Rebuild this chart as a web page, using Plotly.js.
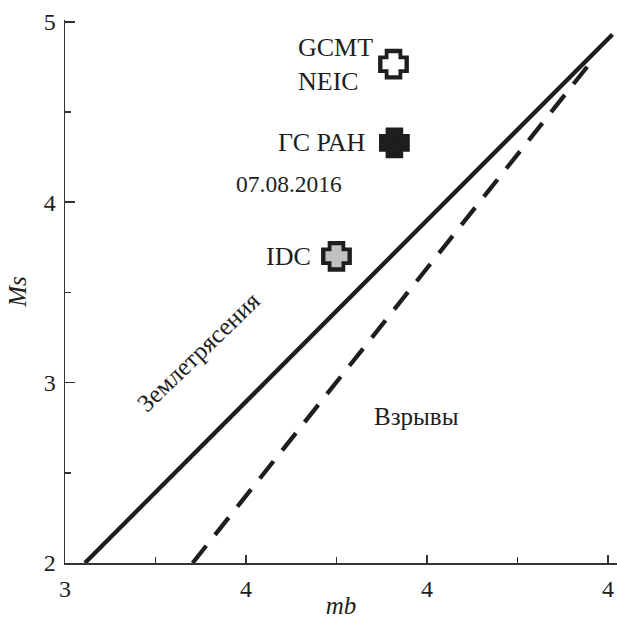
<!DOCTYPE html>
<html>
<head>
<meta charset="utf-8">
<script src="https://cdn.plot.ly/plotly-3.0.1.min.js"></script>
<style>html,body{margin:0;padding:0;background:#fff;}#chart{width:617px;height:619px;}</style>
</head>
<body>
<div id="chart"></div>
<script>
// Discrimination lines (mb, Ms)
const quakeMb = [3.644, 4.81];
const quakeMs = [2.0, 4.93];
const blastMb = [3.882, 4.771];
const blastMs = [2.0, 4.804];

// Agency estimates
const agencyLabels = ['GCMT<br>NEIC', 'ГС РАН', 'IDC'];
const agencyMb = [4.326, 4.328, 4.200];
const agencyMs = [4.765, 4.329, 3.700];
const agencyFill = ['#ffffff', '#1e1e1e', '#c0c0c0'];

// Axis ticks
const xTickVals = [3.6, 4.0, 4.4, 4.8];
const xTickText = ['3', '4', '4', '4'];
const xMinorVals = [3.8, 4.2, 4.6];
const yTickVals = [2, 3, 4, 5];
const yTickText = ['2', '3', '4', '5'];
const yMinorVals = [2.5, 3.5, 4.5];

const ink = '#1e1e1e';
const axisInk = '#333333';
const serif = "'Liberation Serif', 'Times New Roman', serif";

const traces = [
  {x: quakeMb, y: quakeMs, mode: 'lines', line: {color: ink, width: 4.3}, hoverinfo: 'skip'},
  {x: blastMb, y: blastMs, mode: 'lines', line: {color: ink, width: 4.3, dash: '22px,14px'}, hoverinfo: 'skip'},
  {x: agencyMb, y: agencyMs, mode: 'markers', hoverinfo: 'skip',
   marker: {symbol: 'cross', size: 16.5, color: ink, line: {color: ink, width: 11}}},
  {x: agencyMb, y: agencyMs, mode: 'markers', hoverinfo: 'skip',
   marker: {symbol: 'cross', size: 15, color: agencyFill, line: {color: agencyFill, width: 4}}}
];

const labelShift = [-18, -27, -23];
const annotations = agencyLabels.map((t, i) => ({
  x: agencyMb[i], y: agencyMs[i], xref: 'x', yref: 'y', text: t, showarrow: false,
  xanchor: 'right', yanchor: 'middle', align: 'left', xshift: labelShift[i],
  font: {family: serif, size: 26, color: ink}
}));
annotations.push(
  {x: 4.096, y: 4.10, xref: 'x', yref: 'y', text: '07.08.2016', showarrow: false,
   font: {family: serif, size: 23.5, color: ink}},
  {x: 4.376, y: 2.81, xref: 'x', yref: 'y', text: 'Взрывы', showarrow: false,
   font: {family: serif, size: 25, color: ink}},
  {x: 3.896, y: 3.17, xref: 'x', yref: 'y', text: 'Землетрясения', showarrow: false, textangle: -44,
   font: {family: serif, size: 25, color: ink}}
);

const layout = {
  width: 617, height: 619,
  margin: {l: 65, r: 0, t: 20, b: 56, pad: 0},
  paper_bgcolor: '#ffffff', plot_bgcolor: '#ffffff',
  showlegend: false,
  font: {family: serif, size: 23, color: ink},
  xaxis: {
    range: [3.6, 4.82], showgrid: false, zeroline: false,
    showline: true, linecolor: axisInk, linewidth: 1.5, mirror: false,
    ticks: 'inside', ticklen: 8, tickwidth: 1.5, tickcolor: axisInk,
    tickmode: 'array', tickvals: xTickVals, ticktext: xTickText,
    ticklabelstandoff: 4,
    minor: {tickmode: 'array', tickvals: xMinorVals, ticks: 'inside', ticklen: 6, tickwidth: 1.5, tickcolor: axisInk, showgrid: false},
    tickfont: {family: serif, size: 24, color: ink},
    title: {text: '<i>mb</i>', font: {family: serif, size: 25, color: ink}, standoff: 1}
  },
  yaxis: {
    range: [2, 5.01], showgrid: false, zeroline: false,
    showline: true, linecolor: axisInk, linewidth: 1.5,
    ticks: 'inside', ticklen: 10, tickwidth: 1.5, tickcolor: axisInk,
    tickmode: 'array', tickvals: yTickVals, ticktext: yTickText,
    ticklabelstandoff: 3,
    minor: {tickmode: 'array', tickvals: yMinorVals, ticks: 'inside', ticklen: 6, tickwidth: 1.5, tickcolor: axisInk, showgrid: false},
    tickfont: {family: serif, size: 24, color: ink},
    title: {text: '<i>Ms</i>', font: {family: serif, size: 25, color: ink}, standoff: 10}
  },
  annotations: annotations
};

Plotly.newPlot('chart', traces, layout, {displayModeBar: false, staticPlot: true});
</script>
</body>
</html>
